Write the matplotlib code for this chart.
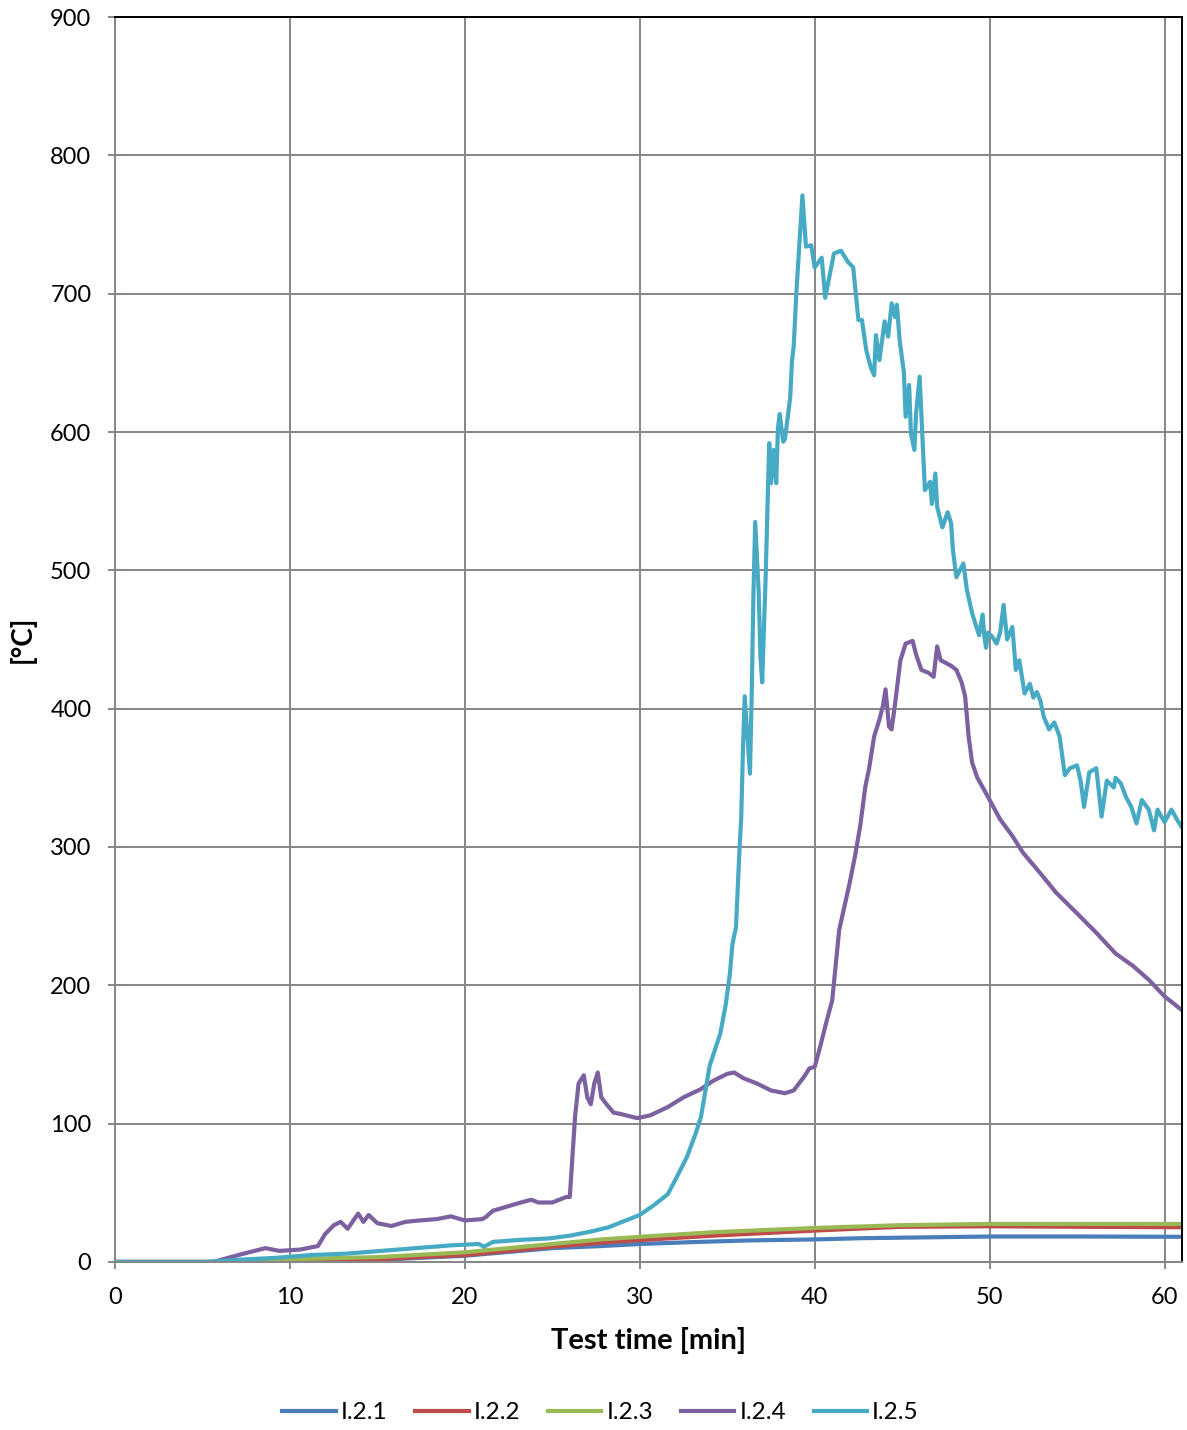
import matplotlib
matplotlib.use("Agg")
import matplotlib.pyplot as plt

# thermocouple readings, time in minutes, temperature in degC
t_121 = [0, 7, 10, 15, 20, 25, 27.8, 30, 33.1, 36.3, 40, 42.7, 50, 55.5, 61]
T_121 = [0, 0, 0, 1.5, 4.5, 10, 11.5, 13, 14.4, 15.6, 16.3, 17.2, 18.4, 18.4, 18.2]

t_122 = [0, 7, 10, 15, 20, 25, 27.8, 30, 34.2, 40, 44.9, 50, 55.5, 61]
T_122 = [0, 0, 0.5, 2, 5, 11, 14, 15.8, 19, 22.7, 25.4, 25.8, 25.4, 25.1]

t_123 = [0, 6, 10, 15, 20, 25, 27.8, 30, 34.2, 40, 44.9, 50, 61]
T_123 = [0, 0, 2, 3.5, 7, 13, 16.3, 18.2, 21.5, 24.6, 26.6, 27.5, 27.5]

t_124 = [0, 5.6, 7.2, 8.6, 9.4, 10.6, 11.6, 12.0, 12.5, 12.9, 13.3, 13.9, 14.2, 14.5,
         15.0, 15.8, 16.6, 17.4, 18.4, 19.2, 20.0, 21.0, 21.2, 21.6, 22.4, 23.2, 23.8,
         24.2, 25.0, 25.8, 26.0, 26.3, 26.5, 26.8, 27.0, 27.2, 27.4, 27.6, 27.8, 28.1,
         28.5, 28.9, 29.85, 30.6, 31.6, 32.5, 33.5, 34.2, 35.0, 35.4, 35.9, 36.7, 37.5,
         38.3, 38.8, 39.4, 39.7, 40.0, 40.3, 40.7, 41.0, 41.4, 42.0, 42.3, 42.6, 42.9,
         43.1, 43.4, 43.7, 43.9, 44.05, 44.25, 44.4, 44.6, 44.9, 45.2, 45.6, 45.8, 46.1,
         46.5, 46.8, 47.0, 47.2, 47.5, 47.8, 48.1, 48.4, 48.6, 48.8, 49.0, 49.3, 49.7,
         50.0, 50.6, 51.3, 51.9, 52.9, 53.8, 55.0, 56.1, 57.2, 58.2, 59.1, 60.0, 61.0]
T_124 = [0, 0, 5.5, 10, 8, 9, 11.5, 20, 26.5, 29, 24, 35, 29, 34,
         28, 26, 29, 30, 31, 33, 30, 31, 32.5, 37, 40, 43, 45,
         43, 43, 47, 47, 105, 129, 135, 119, 114, 129, 137, 119, 114,
         108, 107, 104, 106, 112, 119, 125, 131, 136, 137, 133, 129, 124,
         122, 124, 134, 140, 141, 155, 175, 189, 240, 274, 293, 315, 344,
         356, 380, 392, 402, 414, 387, 385, 404, 435, 447, 449, 439, 428,
         426, 423, 445, 435, 433, 431, 428, 419, 409, 380, 361, 350, 341,
         334, 320, 308, 296, 281, 267, 252, 238, 223, 214, 204, 192, 182]

t_125 = [0, 5.2, 7.2, 9.2, 11.2, 13.2, 15.2, 17.2, 19.2, 20.8, 21.1, 21.6, 23.2, 24.8,
         26.0, 27.2, 28.2, 29.2, 30.0, 30.8, 31.6, 32.1, 32.7, 33.2, 33.5, 34.0, 34.6,
         34.9, 35.15, 35.3, 35.5, 35.7, 35.8, 35.9, 36.0, 36.2, 36.3, 36.4, 36.5, 36.6,
         36.8, 36.9, 37.0, 37.2, 37.4, 37.5, 37.65, 37.8, 37.9, 38.0, 38.2, 38.3, 38.6,
         38.7, 38.8, 38.95, 39.1, 39.3, 39.5, 39.8, 40.0, 40.4, 40.6, 41.1, 41.5, 41.9,
         42.2, 42.5, 42.7, 42.95, 43.2, 43.4, 43.5, 43.7, 44.0, 44.2, 44.4, 44.6, 44.7,
         44.86, 45.1, 45.2, 45.4, 45.5, 45.7, 45.8, 46.0, 46.3, 46.6, 46.7, 46.9, 47.0,
         47.3, 47.6, 47.8, 47.9, 48.1, 48.5, 48.7, 49.0, 49.4, 49.6, 49.7, 49.8, 49.9,
         50.15, 50.4, 50.6, 50.8, 51.0, 51.3, 51.5, 51.7, 52.0, 52.3, 52.5, 52.7, 52.9,
         53.1, 53.4, 53.7, 54.0, 54.3, 54.6, 55.0, 55.2, 55.4, 55.7, 56.1, 56.4, 56.7,
         57.1, 57.2, 57.5, 57.8, 58.1, 58.4, 58.7, 59.1, 59.4, 59.6, 60.0, 60.4, 60.7, 61.0]
T_125 = [0, 0, 1.7, 3, 5, 6, 8, 10, 12, 13, 11, 14.5, 16, 17,
         19, 22, 25, 30, 34, 41, 49, 61, 76, 93, 105, 142, 165,
         185, 208, 230, 242, 298, 321, 371, 409, 371, 353, 411, 484, 535,
         484, 437, 419, 497, 592, 563, 587, 563, 603, 613, 593, 595, 625,
         651, 662, 700, 731, 771, 734, 735, 719, 726, 697, 729, 731, 723,
         719, 681, 681, 659, 647, 641, 670, 652, 680, 669, 693, 683, 692,
         666, 643, 611, 634, 599, 587, 614, 640, 558, 564, 548, 570, 546,
         531, 542, 534, 515, 495, 505, 486, 469, 453, 468, 452, 444, 455,
         452, 447, 455, 475, 450, 459, 428, 435, 411, 418, 408, 412, 406,
         394, 385, 390, 380, 352, 357, 359, 348, 329, 354, 357, 322, 348,
         343, 350, 346, 336, 329, 317, 334, 327, 312, 327, 318, 327, 320, 314]

labels = ["I.2.1", "I.2.2", "I.2.3", "I.2.4", "I.2.5"]
colors = ["#4A7EBB", "#BE4B48", "#98B954", "#7D60A0", "#46AAC5"]

plt.rcParams['font.family'] = ['Lato', 'DejaVu Sans']

fig = plt.figure(figsize=(11.87, 14.30), dpi=100)
ax = fig.add_axes([0.0969, 0.1175, 0.8989, 0.8706])

series = [(t_121, T_121), (t_122, T_122), (t_123, T_123), (t_124, T_124), (t_125, T_125)]
for (t, T), lab, col in zip(series, labels, colors):
    ax.plot(t, T, color=col, lw=3.0, label=lab, solid_joinstyle='round')

ax.set_xlim(0, 61)
ax.set_ylim(0, 900)
ax.set_xticks(range(0, 61, 10))
ax.set_yticks(range(0, 901, 100))
ax.grid(True, color='#868686', lw=1.4)
ax.set_axisbelow(True)

for side in ['left', 'bottom']:
    ax.spines[side].set_color('#868686')
    ax.spines[side].set_linewidth(1.4)
for side in ['top', 'right']:
    ax.spines[side].set_color('black')
    ax.spines[side].set_linewidth(1.4)

ax.tick_params(direction='inout', length=10, width=1.4, color='#868686',
               labelsize=17)
ax.tick_params(axis='y', pad=12)
ax.tick_params(axis='x', pad=13)

ax.set_xlabel("Test time [min]", fontsize=21, fontweight='bold', labelpad=14)
ax.set_ylabel("[°C]", fontsize=20, fontweight='bold', labelpad=10)

ax.legend(loc='center', bbox_to_anchor=(0.455, -0.121), ncol=5, frameon=False,
          fontsize=17.5, handlelength=2.2, handletextpad=0.2, columnspacing=1.15)

plt.savefig("out.png", dpi=100)
